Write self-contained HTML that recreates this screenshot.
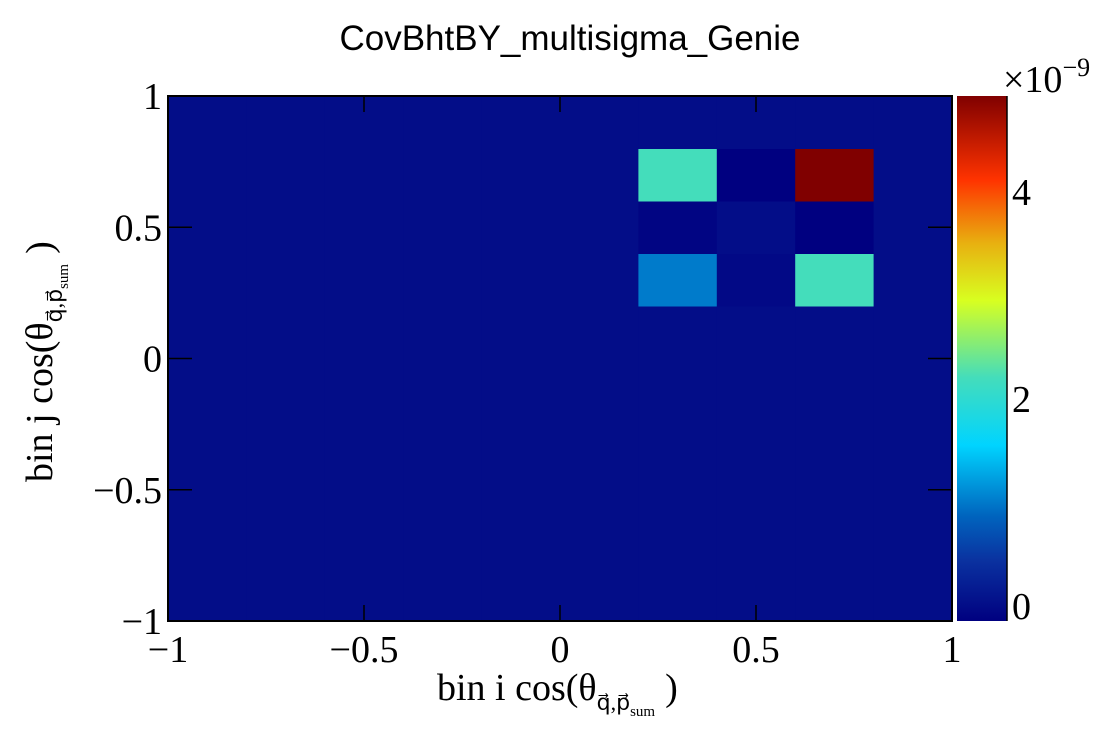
<!DOCTYPE html>
<html><head><meta charset="utf-8"><style>
html,body{margin:0;padding:0;background:#fff;width:1120px;height:740px;overflow:hidden}
svg{display:block}
.tk{font-family:"Liberation Serif",serif;font-size:38px;fill:#000}
</style></head><body>
<svg id="chart" width="1120" height="740" xmlns="http://www.w3.org/2000/svg">
<text x="570" y="50" text-anchor="middle" font-family="Liberation Sans, sans-serif" font-size="35">CovBhtBY_multisigma_Genie</text>
<g id="cells"></g>
<rect x="168" y="96" width="784" height="525" fill="none" stroke="#000" stroke-width="2"/>
<g id="ticks"></g>
<defs><linearGradient id="cbg" x1="0" y1="1" x2="0" y2="0"></linearGradient></defs>
<rect id="cbar" x="957" y="96" width="50" height="525" fill="url(#cbg)"/>
<line x1="1007" y1="96" x2="1007" y2="621" stroke="#000" stroke-width="1.5"/>
<text x="1003" y="92" class="tk" font-size="36">×10<tspan dy="-16" font-size="26">−9</tspan></text>
<text x="437" y="700" class="tk" font-size="37">bin i cos(θ<tspan dy="10" font-size="22">q⃗,p⃗</tspan><tspan dy="6" font-size="15">sum</tspan><tspan dy="-16" dx="10">)</tspan></text>
<text transform="translate(52,482) rotate(-90)" class="tk" font-size="37">bin j cos(θ<tspan dy="10" font-size="22">q⃗,p⃗</tspan><tspan dy="6" font-size="15">sum</tspan><tspan dy="-16" dx="10">)</tspan></text>
</svg>
<script>
const xBinEdges = [-1,-0.8,-0.6,-0.4,-0.2,0,0.2,0.4,0.6,0.8,1];
const yBinEdges = [-1,-0.8,-0.6,-0.4,-0.2,0,0.2,0.4,0.6,0.8,1];
// values (x1e-9), rows from y=-1 upward, columns from x=-1 rightward
const rowBelow = [0,0,0,0,0,0,0,0,0,0];
const row02 = [0,0,0,0,0,0,1.0,-0.05,2.2,0];
const row04 = [0,0,0,0,0,0,-0.1,0,-0.15,0];
const row06 = [0,0,0,0,0,0,2.2,-0.15,4.92,0];
const values = [rowBelow,rowBelow,rowBelow,rowBelow,rowBelow,rowBelow,row02,row04,row06,rowBelow];
const xTicks = [-1,-0.5,0,0.5,1];
const xTickLabels = ["−1","−0.5","0","0.5","1"];
const yTicks = [-1,-0.5,0,0.5,1];
const yTickLabels = ["−1","−0.5","0","0.5","1"];
const zTicks = [0,2,4];
const zTickLabels = ["0","2","4"];
const zMin = -0.155, zMax = 4.92;

const X0=168,X1=952,Y0=621,Y1=96;
const sx=v=>X0+(v+1)/2*(X1-X0);
const sy=v=>Y0-(v+1)/2*(Y0-Y1);
const sz=v=>Y0-(v-zMin)/(zMax-zMin)*(Y0-Y1);
const stops=[[0,[0,0,128]],[0.116,[10,50,160]],[0.2,[0,100,190]],[0.335,[0,212,255]],[0.464,[68,221,187]],[0.61,[216,255,32]],[0.72,[232,176,16]],[0.84,[255,51,0]],[1,[128,0,0]]];
function col(v){let f=(v-zMin)/(zMax-zMin);f=Math.max(0,Math.min(1,f));
 for(let i=1;i<stops.length;i++){if(f<=stops[i][0]){const a=stops[i-1],b=stops[i];const t=(f-a[0])/(b[0]-a[0]);
  const c=a[1].map((x,k)=>Math.round(x+(b[1][k]-x)*t));return `rgb(${c})`;}}return 'rgb(128,0,0)';}
const NS='http://www.w3.org/2000/svg';
const g=document.getElementById('cbg');
stops.forEach(s=>{const st=document.createElementNS(NS,'stop');st.setAttribute('offset',s[0]);st.setAttribute('stop-color',`rgb(${s[1]})`);g.appendChild(st);});
const cells=document.getElementById('cells');
for(let j=0;j<values.length;j++)for(let i=0;i<values[j].length;i++){
 const r=document.createElementNS(NS,'rect');
 const x=sx(xBinEdges[i]),x2=sx(xBinEdges[i+1]),y=sy(yBinEdges[j+1]),y2=sy(yBinEdges[j]);
 r.setAttribute('x',x);r.setAttribute('y',y);r.setAttribute('width',x2-x+0.5);r.setAttribute('height',y2-y+0.5);
 r.setAttribute('fill',col(values[j][i]));
 
 
 cells.appendChild(r);}
const tk=document.getElementById('ticks');
function line(a,b,c,d){const l=document.createElementNS(NS,'line');l.setAttribute('x1',a);l.setAttribute('y1',b);l.setAttribute('x2',c);l.setAttribute('y2',d);l.setAttribute('stroke','#000');l.setAttribute('stroke-width','1.5');tk.appendChild(l);}
function txt(x,y,s,anchor){const t=document.createElementNS(NS,'text');t.setAttribute('x',x);t.setAttribute('y',y);t.setAttribute('class','tk');t.setAttribute('text-anchor',anchor);t.textContent=s;
 
 
 tk.appendChild(t);}
xTicks.forEach((v,i)=>{const x=sx(v);line(x,Y0,x,Y0-16);line(x,Y1,x,Y1+16);txt(x,662,xTickLabels[i],'middle');});
yTicks.forEach((v,i)=>{const y=sy(v);line(X0,y,X0+24,y);line(X1,y,X1-24,y);txt(162,y+13,yTickLabels[i],'end');});
zTicks.forEach((v,i)=>{const y=sz(v);line(1007,y,992,y);txt(1012,y+14,zTickLabels[i],'start');});
</script>
</body></html>
